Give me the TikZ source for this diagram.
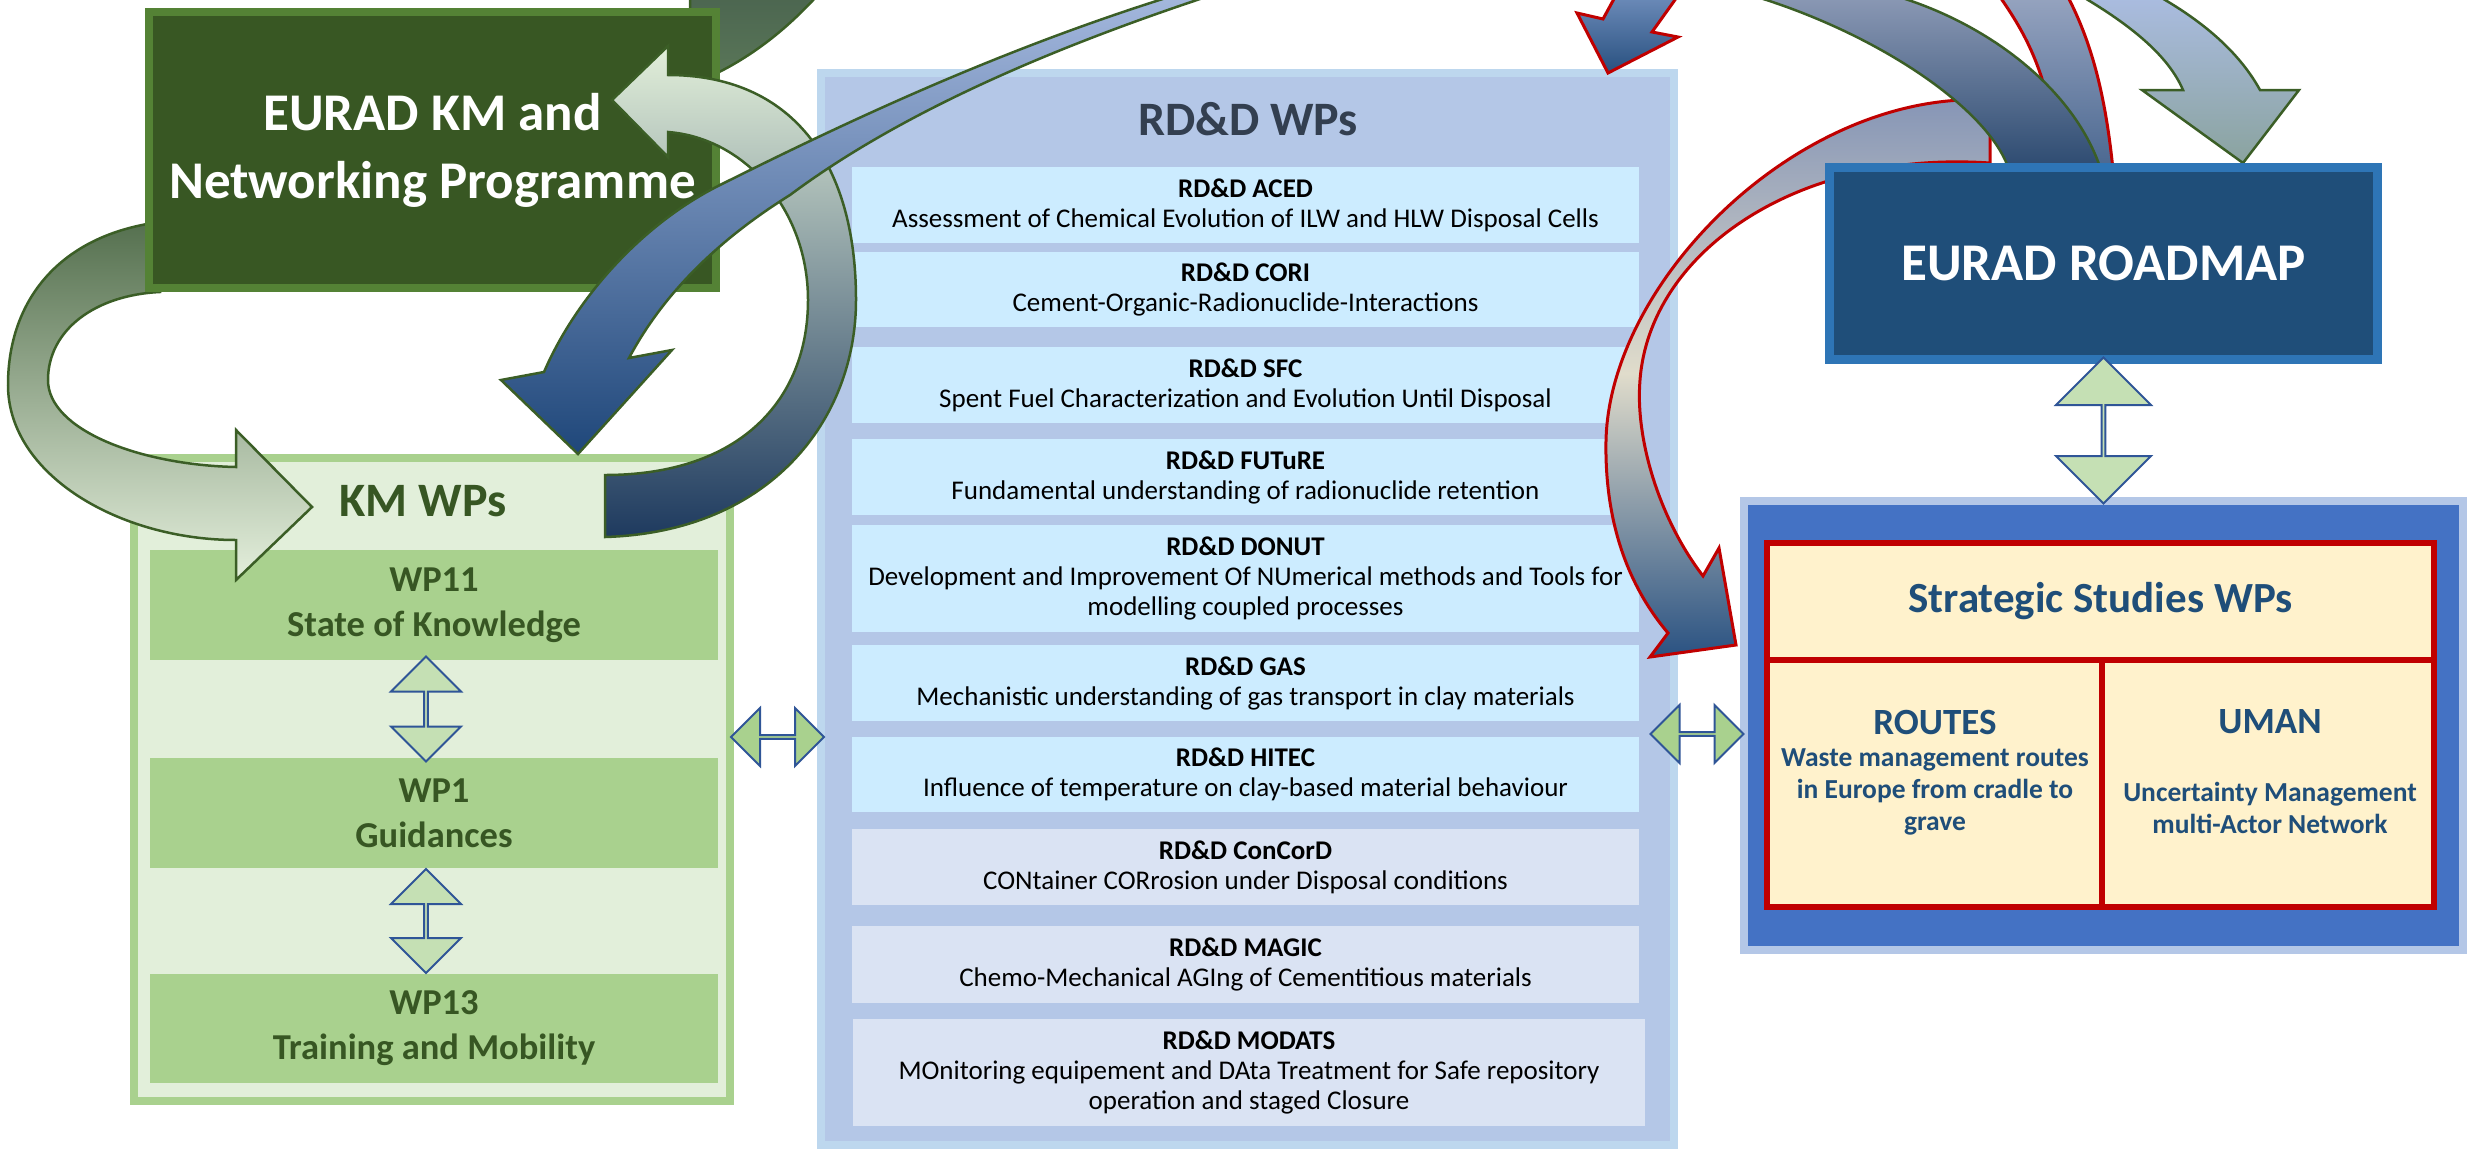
\documentclass[tikz,border=0pt]{standalone}
\usepackage{fontspec}
\setmainfont{Carlito}
\usetikzlibrary{shapes,arrows,calc}

\definecolor{kmdark}{HTML}{385723}
\definecolor{kmborder}{HTML}{548235}
\definecolor{kmlight}{HTML}{A9D18E}
\definecolor{kmpale}{HTML}{E2EFDA}
\definecolor{kmtext}{HTML}{375623}
\definecolor{dblpale}{HTML}{C5E0B4}
\definecolor{dblblue}{HTML}{2F5597}
\definecolor{rdedge}{HTML}{BDD7EE}
\definecolor{rdfill}{HTML}{B4C7E7}
\definecolor{rdtext}{HTML}{333F50}
\definecolor{itemcyan}{HTML}{CCECFF}
\definecolor{itemlav}{HTML}{DAE3F3}
\definecolor{mapedge}{HTML}{2E75B6}
\definecolor{mapfill}{HTML}{1F4E79}
\definecolor{ssblue}{HTML}{4472C4}
\definecolor{ssred}{HTML}{C00000}
\definecolor{sscream}{HTML}{FFF2CC}
\definecolor{sstext}{HTML}{1F4E79}
\definecolor{curveline}{HTML}{3B5E26}
% shading colours of the curved arrows
\definecolor{topD}{HTML}{4C6650}
\definecolor{botD}{HTML}{5B7859}
\definecolor{topB}{HTML}{55704F}
\definecolor{botB}{HTML}{E4EFDC}
\definecolor{topA}{HTML}{E2EFD9}
\definecolor{botA}{HTML}{1E3A5F}
\definecolor{topC}{HTML}{A3B7DD}
\definecolor{botC}{HTML}{1F477A}
\definecolor{topH}{HTML}{95A3BF}
\definecolor{botH}{HTML}{4A6790}
\definecolor{topI}{HTML}{8393B5}
\definecolor{midI}{HTML}{E0DCCB}
\definecolor{botI}{HTML}{2A5282}
\definecolor{topF}{HTML}{8A98B4}
\definecolor{botF}{HTML}{2C4A70}
\definecolor{topE}{HTML}{AABCE0}
\definecolor{botE}{HTML}{8AA39F}
\definecolor{topG}{HTML}{6B8AB8}
\definecolor{botG}{HTML}{28507F}

\begin{document}
\begin{tikzpicture}[x=1pt,y=-1pt,
  progbox/.style={draw=kmborder, line width=8pt, fill=kmdark, text=white, align=center,
    font=\bfseries\fontsize{53}{68}\selectfont, minimum width=567pt, minimum height=276pt, inner sep=0pt},
  kmframe/.style={draw=kmlight, line width=8pt, fill=kmpale, minimum width=596pt, minimum height=643pt, inner sep=0pt},
  kmhead/.style={text=kmtext, font=\bfseries\fontsize{48}{56}\selectfont},
  wpbox/.style={fill=kmlight, text=kmtext, align=center, font=\bfseries\fontsize{36.5}{45}\selectfont,
    minimum width=568pt, minimum height=110pt, inner sep=0pt},
  rdframe/.style={draw=rdedge, line width=8pt, fill=rdfill, minimum width=853pt, minimum height=1072pt, inner sep=0pt},
  rdhead/.style={text=rdtext, font=\bfseries\fontsize{48}{56}\selectfont},
  rditem/.style={fill=itemcyan, align=center, font=\fontsize{27}{30}\selectfont,
    minimum width=787pt, minimum height=76pt, inner sep=0pt},
  rdlater/.style={rditem, fill=itemlav},
  mapbox/.style={draw=mapedge, line width=9pt, fill=mapfill, text=white, font=\bfseries\fontsize{53}{64}\selectfont,
    minimum width=548pt, minimum height=192pt, inner sep=0pt},
  ssframe/.style={draw=rdfill, line width=8pt, fill=ssblue, minimum width=719pt, minimum height=449pt, inner sep=0pt},
  sscell/.style={draw=ssred, line width=6pt, fill=sscream, inner sep=0pt},
  sshead/.style={text=sstext, font=\bfseries\fontsize{43}{50}\selectfont},
  ssname/.style={text=sstext, font=\bfseries\fontsize{37}{44}\selectfont},
  ssdesc/.style={text=sstext, align=center, font=\bfseries\fontsize{27.5}{32}\selectfont},
  dblv/.style={double arrow, shape border rotate=90, draw=dblblue, line width=2pt, fill=dblpale,
    double arrow head extend=17pt, minimum width=70pt, minimum height=105pt, inner sep=0pt},
  dblh/.style={double arrow, draw=dblblue, line width=2pt, fill=kmlight,
    double arrow head extend=14.5pt, minimum width=58pt, minimum height=93pt, inner sep=0pt},
  greencurve/.style={draw=curveline, line width=2.5pt},
  redcurve/.style={draw=ssred, line width=3pt}]

\useasboundingbox (0,0) rectangle (2478,1149);
\clip (0,0) rectangle (2478,1149);

% RD&D column
\node[rdframe] (rdframe) at (1247.5,609) {};
\node[rdhead] (rdtitle) at (1248,119) {RD\&D WPs};
\node[rditem] (aced) at (1245.5,205) {{\bfseries RD\&D ACED}\\Assessment of Chemical Evolution of ILW and HLW Disposal Cells};
\node[rditem, minimum height=75pt] (cori) at (1245.5,289.5) {{\bfseries RD\&D CORI}\\Cement-Organic-Radionuclide-Interactions};
\node[rditem] (sfc) at (1245.5,385) {{\bfseries RD\&D SFC}\\Spent Fuel Characterization and Evolution Until Disposal};
\node[rditem] (future) at (1245.5,477) {{\bfseries RD\&D FUTuRE}\\Fundamental understanding of radionuclide retention};
\node[rditem, minimum height=107pt] (donut) at (1245.5,578.5) {{\bfseries RD\&D DONUT}\\Development and Improvement Of NUmerical methods and Tools for\\modelling coupled processes};
\node[rditem] (gas) at (1245.5,683) {{\bfseries RD\&D GAS}\\Mechanistic understanding of gas transport in clay materials};
\node[rditem, minimum height=75pt] (hitec) at (1245.5,774.5) {{\bfseries RD\&D HITEC}\\Influence of temperature on clay-based material behaviour};
\node[rdlater] (concord) at (1245.5,867) {{\bfseries RD\&D ConCorD}\\CONtainer CORrosion under Disposal conditions};
\node[rdlater, minimum height=77pt] (magic) at (1245.5,964.5) {{\bfseries RD\&D MAGIC}\\Chemo-Mechanical AGIng of Cementitious materials};
\node[rdlater, minimum width=792pt, minimum height=107pt] (modats) at (1249,1072.5) {{\bfseries RD\&D MODATS}\\MOnitoring equipement and DAta Treatment for Safe repository\\operation and staged Closure};

% KM column
\node[kmframe] (kmframe) at (432,779.5) {};
\node[kmhead] (kmtitle) at (423,501) {KM WPs};
\node[wpbox] (wp11) at (434,605) {WP11\\State of Knowledge};
\node[wpbox] (wp1) at (434,813) {WP1\\Guidances};
\node[wpbox, minimum height=109pt] (wp13) at (434,1028.5) {WP13\\Training and Mobility};
\node[dblv] (wp11wp1) at ($(wp11.south)!0.5!(wp1.north)+(-8,0)$) {};
\node[dblv, minimum height=104pt] (wp1wp13) at ($(wp1.south)!0.5!(wp13.north)+(-8,0)$) {};

% strategic studies
\node[ssframe] (ssframe) at (2103.5,725.5) {};
\node[sscell, minimum width=667pt, minimum height=117pt, sshead] (sshead) at (2100.5,601.5) {Strategic Studies WPs};
\node[sscell, minimum width=335pt, minimum height=247pt] (routes) at (1934.5,783.5) {};
\node[sscell, minimum width=332pt, minimum height=247pt] (uman) at (2268,783.5) {};
\node[ssname] (routesname) at (1935,722) {ROUTES};
\node[ssdesc] (routesdesc) at (1935,792) {Waste management routes\\in Europe from cradle to\\grave};
\node[ssname] (umanname) at (2270,722) {UMAN};
\node[ssdesc] (umandesc) at (2270,808) {Uncertainty Management\\multi-Actor Network};

% curved arrows behind the programme box
\shadedraw[greencurve, top color=topD, bottom color=botD] (690,-3) -- (690,85)
  .. controls (750,62) and (790,25) .. (816,-3) -- cycle;
\shadedraw[greencurve, top color=topB, bottom color=botB] (160,222)
  .. controls (60,235) and (8,300) .. (8,385)
  .. controls (8,475) and (120,540) .. (236,540)
  -- (236,580) -- (312,507) -- (236,430) -- (236,467)
  .. controls (140,465) and (48,430) .. (48,380)
  .. controls (48,330) and (95,295) .. (160,292) -- cycle;

\node[progbox] (kmprog) at (432.5,150) {EURAD KM and\\Networking Programme};

\shadedraw[greencurve, top color=topA, bottom color=botA] (605,475) -- (605,537)
  .. controls (770,532) and (856,420) .. (856,300)
  .. controls (856,160) and (790,75) .. (668,75)
  -- (668,46) -- (612,100) -- (668,157) -- (668,132)
  .. controls (745,138) and (808,210) .. (808,300)
  .. controls (808,400) and (740,475) .. (605,475) -- cycle;
\shadedraw[greencurve, top color=topC, bottom color=botC] (1169,-3)
  .. controls (1000,50) and (850,120) .. (720,185)
  .. controls (640,225) and (575,300) .. (544,372)
  -- (501,380) -- (578,454) -- (672,350) -- (629,358)
  .. controls (660,300) and (710,245) .. (790,195)
  .. controls (880,128) and (1010,62) .. (1206,-3) -- cycle;

% arrows round the roadmap
\shadedraw[redcurve, top color=topH, bottom color=botH] (2000,-3)
  .. controls (2030,40) and (2050,80) .. (2060,170) -- (2113,170)
  .. controls (2105,90) and (2090,40) .. (2068,-3) -- cycle;
\shadedraw[redcurve, top color=topI, bottom color=botI, middle color=midI] (1990,100)
  .. controls (1800,90) and (1610,280) .. (1606,440)
  .. controls (1604,540) and (1640,600) .. (1668,633)
  -- (1650,657) -- (1736,645) -- (1719,548) -- (1703,576)
  .. controls (1660,520) and (1635,440) .. (1640,380)
  .. controls (1650,250) and (1800,150) .. (1990,163) -- cycle;
\shadedraw[greencurve, top color=topF, bottom color=botF] (1757,-3)
  .. controls (1880,35) and (1990,110) .. (2009,170) -- (2101,170)
  .. controls (2075,90) and (1990,25) .. (1899,-3) -- cycle;
\shadedraw[greencurve, top color=topE, bottom color=botE] (2083,-3)
  .. controls (2130,25) and (2168,55) .. (2183,90)
  -- (2142,90) -- (2243,163) -- (2299,90) -- (2260,90)
  .. controls (2238,50) and (2200,20) .. (2160,-3) -- cycle;
\shadedraw[redcurve, top color=topG, bottom color=botG] (1615,-3) -- (1603,19) -- (1577,13)
  -- (1608,73) -- (1678,37) -- (1652,32) -- (1677,-3) -- cycle;

\node[mapbox] (roadmap) at (2103.5,263.5) {EURAD ROADMAP};

% links between the columns
\node[dblh] (kmrd) at (777.5,737) {};
\node[dblh] (rdss) at (1697,734) {};
\node[dblv, double arrow head extend=24pt, minimum width=95pt, minimum height=146pt] (mapss) at ($(roadmap.south)!0.5!(ssframe.north)$) {};
\end{tikzpicture}
\end{document}
